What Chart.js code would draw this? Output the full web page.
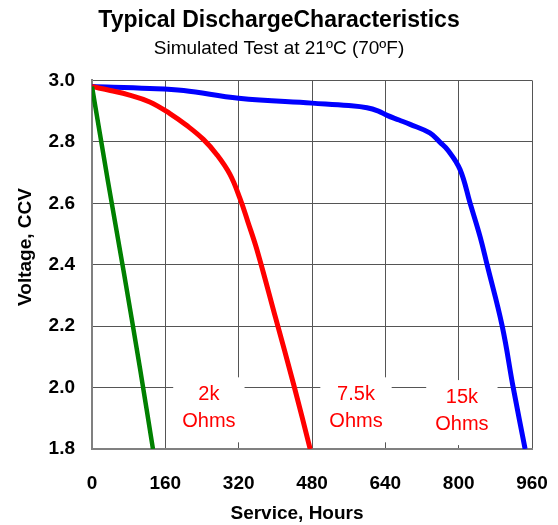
<!DOCTYPE html>
<html>
<head>
<meta charset="utf-8">
<script src="https://cdn.jsdelivr.net/npm/chart.js@4"></script>
<style>
  html, body { margin: 0; padding: 0; background: #fff; }
  #wrap { width: 558px; height: 525px; }
</style>
</head>
<body>
<div id="wrap"><canvas id="dischargeChart" width="558" height="525"></canvas></div>
<script>
// ----- data -----
const hours2k = [0, 35, 70, 105, 133];
const volts2k = [2.98, 2.67, 2.37, 2.06, 1.8];

const hours7k5 = [0, 40, 80, 126, 170, 207, 243, 272, 301, 323, 340, 360, 400, 440, 476];
const volts7k5 = [2.98, 2.967, 2.953, 2.93, 2.892, 2.853, 2.808, 2.759, 2.694, 2.615, 2.54, 2.448, 2.23, 2.01, 1.8];

const hours15k = [0, 126, 200, 320, 480, 560, 600, 625, 644, 670, 694, 737, 759, 777, 803, 825, 847, 862, 895, 919, 945];
const volts15k = [2.98, 2.974, 2.967, 2.942, 2.926, 2.918, 2.911, 2.9, 2.886, 2.871, 2.857, 2.829, 2.799, 2.772, 2.71, 2.60, 2.49, 2.40, 2.20, 2.0, 1.8];

const xTicks = [0, 160, 320, 480, 640, 800, 960];
const yTicks = [1.8, 2.0, 2.2, 2.4, 2.6, 2.8, 3.0];

const labelNames = ['2k', '7.5k', '15k'];
const labelHours = [255, 576, 807];
const labelVolts = [1.978, 1.978, 1.969];

const FONT = "'Liberation Sans', Arial, Helvetica, sans-serif";

function toPoints(xs, ys) {
  return xs.map((x, i) => ({ x: x, y: ys[i] }));
}

function series(label, xs, ys, color, width) {
  return {
    label: label,
    data: toPoints(xs, ys),
    borderColor: color,
    backgroundColor: color,
    borderWidth: width,
    pointRadius: 0,
    fill: false,
    tension: 0.4
  };
}

// white boxes with the resistance names, drawn over the grid but under the curves
const ohmLabels = {
  id: 'ohmLabels',
  beforeDatasetsDraw(chart) {
    const ctx = chart.ctx;
    const xs = chart.scales.x;
    const ys = chart.scales.y;
    ctx.save();
    ctx.font = '20px ' + FONT;
    ctx.textAlign = 'center';
    ctx.textBaseline = 'middle';
    labelNames.forEach((name, i) => {
      const cx = xs.getPixelForValue(labelHours[i]);
      const cy = ys.getPixelForValue(labelVolts[i]);
      const w = Math.max(ctx.measureText(name).width, ctx.measureText('Ohms').width) + 18;
      ctx.fillStyle = '#fff';
      ctx.fillRect(cx - w / 2, cy - 17, w, 65);
      ctx.fillStyle = '#ff0000';
      ctx.fillText(name, cx, cy);
      ctx.fillText('Ohms', cx, cy + 27);
    });
    ctx.restore();
  }
};

// axis titles, placed like the original
const axisTitles = {
  id: 'axisTitles',
  afterDraw(chart) {
    const ctx = chart.ctx;
    ctx.save();
    ctx.fillStyle = '#000';
    ctx.font = 'bold 19px ' + FONT;
    ctx.textAlign = 'center';
    ctx.textBaseline = 'middle';
    ctx.fillText('Service, Hours', 297, 514);
    ctx.translate(26, 247);
    ctx.rotate(-Math.PI / 2);
    ctx.fillText('Voltage, CCV', 0, 0);
    ctx.restore();
  }
};

const ctx = document.getElementById('dischargeChart').getContext('2d');
const dischargeChart = new Chart(ctx, {
  type: 'line',
  data: {
    datasets: [
      series('2k Ohms', hours2k, volts2k, '#008000', 4.5),
      series('7.5k Ohms', hours7k5, volts7k5, '#ff0000', 5),
      series('15k Ohms', hours15k, volts15k, '#0000ff', 5)
    ]
  },
  options: {
    responsive: false,
    animation: false,
    layout: { padding: 0 },
    scales: {
      x: {
        type: 'linear',
        min: 0,
        max: 960,
        afterBuildTicks: (scale) => { scale.ticks = xTicks.map(v => ({ value: v })); },
        afterFit: (scale) => {
          scale.height = 76;
          scale.paddingLeft = 0;
          scale.paddingRight = 26;
        },
        ticks: {
          color: '#000',
          padding: 23,
          font: { family: FONT, size: 19, weight: 'bold' }
        },
        grid: { color: '#555', lineWidth: 1, drawTicks: false },
        border: { color: '#808080', width: 2 }
      },
      y: {
        type: 'linear',
        min: 1.8,
        max: 3.0,
        afterBuildTicks: (scale) => { scale.ticks = yTicks.map(v => ({ value: v })); },
        afterFit: (scale) => { scale.width = 92; },
        ticks: {
          color: '#000',
          padding: 17,
          callback: (v) => v.toFixed(1),
          font: { family: FONT, size: 19, weight: 'bold' }
        },
        grid: { color: '#555', lineWidth: 1, drawTicks: false },
        border: { color: '#808080', width: 2 }
      }
    },
    plugins: {
      legend: { display: false },
      tooltip: { enabled: false },
      title: {
        display: true,
        text: 'Typical DischargeCharacteristics',
        color: '#000',
        font: { family: FONT, size: 23, weight: 'bold' },
        padding: { top: 7, bottom: 3 }
      },
      subtitle: {
        display: true,
        text: 'Simulated Test at 21ºC (70ºF)',
        color: '#000',
        font: { family: FONT, size: 19, weight: 'normal' },
        padding: { top: 0, bottom: 20 }
      }
    }
  },
  plugins: [ohmLabels, axisTitles]
});
</script>
</body>
</html>
